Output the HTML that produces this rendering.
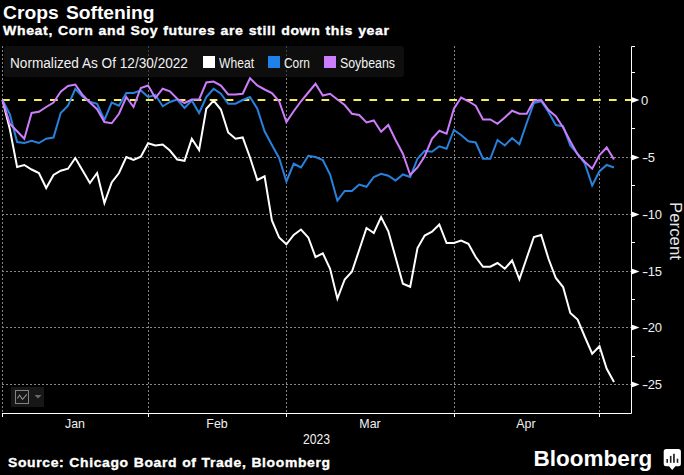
<!DOCTYPE html>
<html><head><meta charset="utf-8">
<style>
html,body{margin:0;padding:0;background:#000;}
body{width:684px;height:475px;overflow:hidden;position:relative;font-family:"Liberation Sans",sans-serif;color:#fff;}
.t{position:absolute;white-space:nowrap;transform-origin:0 0;line-height:1;}
#title{left:2.5px;top:4px;font-size:18.5px;font-weight:bold;transform:scaleX(1.04);word-spacing:1.9px;}
#sub{left:3px;top:24px;font-size:13.3px;font-weight:bold;transform:scaleX(1.0587);letter-spacing:0.6px;word-spacing:0.5px;-webkit-text-stroke:0.35px #fff;}
#src{left:7.5px;top:455.7px;font-size:13.3px;font-weight:bold;transform:scaleX(1.048);letter-spacing:0.6px;word-spacing:0.5px;-webkit-text-stroke:0.35px #fff;}
#legend{position:absolute;left:4px;top:46px;width:400px;height:31px;background:rgba(22,22,22,0.62);border-radius:3px;}
.lg{font-size:14px;top:56px;color:#f2f2f2;}
.sw{position:absolute;top:56px;width:12px;height:12px;}
.ax{font-size:13px;color:#f0f0f0;}
.mo{font-size:13.5px;}
.ax i{font-style:normal;letter-spacing:1.3px;display:inline-block;transform:scaleX(1.45);transform-origin:0 50%;}
.mo{transform-origin:50% 0;transform:translateX(-50%) scaleX(0.92);}
svg{position:absolute;left:0;top:0;}
.g{stroke:#868686;stroke-width:1;stroke-dasharray:2 2;}
.a{stroke:#fff;stroke-width:1;fill:none;}
.s{fill:none;stroke-width:2.0;stroke-linejoin:miter;stroke-linecap:butt;}
#pct{left:683px;top:201.5px;font-size:16px;transform:rotate(90deg) scaleX(1.05);color:#e6e6e6;}
#yr{left:303px;top:432.1px;font-size:14px;color:#f0f0f0;transform:scaleX(0.87);}
#bb{left:533.5px;top:448.3px;font-size:22.5px;font-weight:bold;transform:scaleX(1.0);}
#ib{position:absolute;left:11px;top:387px;width:33px;height:20px;background:#171717;}
</style></head><body>
<div id="title" class="t">Crops Softening</div>
<div id="sub" class="t">Wheat, Corn and Soy futures are still down this year</div>
<svg width="684" height="475" viewBox="0 0 684 475" id="chart">
<line x1="2" y1="157.5" x2="631" y2="157.5" class="g"/>
<line x1="2" y1="214.5" x2="631" y2="214.5" class="g"/>
<line x1="2" y1="271.5" x2="631" y2="271.5" class="g"/>
<line x1="2" y1="327.5" x2="631" y2="327.5" class="g"/>
<line x1="2" y1="384.5" x2="631" y2="384.5" class="g"/>
<line x1="2.5" y1="46" x2="2.5" y2="413" class="g"/>
<line x1="148.5" y1="46" x2="148.5" y2="413" class="g"/>
<line x1="286.5" y1="46" x2="286.5" y2="413" class="g"/>
<line x1="454.5" y1="46" x2="454.5" y2="413" class="g"/>
<line x1="599.5" y1="46" x2="599.5" y2="413" class="g"/>
<path d="M2 413.5 H631.5 V46.5 H635" class="a"/>
<line x1="2.5" y1="413" x2="2.5" y2="417" class="a"/>
<line x1="148.5" y1="413" x2="148.5" y2="417" class="a"/>
<line x1="286.5" y1="413" x2="286.5" y2="417" class="a"/>
<line x1="454.5" y1="413" x2="454.5" y2="417" class="a"/>
<line x1="599.5" y1="413" x2="599.5" y2="417" class="a"/>
<line x1="632" y1="72.5" x2="635" y2="72.5" class="a"/>
<line x1="632" y1="128.5" x2="635" y2="128.5" class="a"/>
<line x1="632" y1="185.5" x2="635" y2="185.5" class="a"/>
<line x1="632" y1="242.5" x2="635" y2="242.5" class="a"/>
<line x1="632" y1="299.5" x2="635" y2="299.5" class="a"/>
<line x1="632" y1="356.5" x2="635" y2="356.5" class="a"/>
<line x1="2.1" y1="100.0" x2="632" y2="100.0" stroke="#f9ed5e" stroke-width="2.15" stroke-dasharray="7.7 8.27"/>
<path d="M2.5 100.00 L9.8 129.00 L17.1 167.00 L24.3 165.00 L31.6 169.50 L38.9 173.00 L46.2 188.00 L53.5 175.00 L60.7 170.75 L68.0 168.75 L75.3 158.00 L82.6 170.50 L89.9 183.00 L97.1 173.00 L104.4 203.00 L111.7 182.50 L119.0 173.00 L126.3 157.00 L133.5 160.00 L140.8 156.75 L148.1 143.25 L155.4 145.50 L162.7 144.50 L169.9 150.50 L177.2 159.50 L184.5 160.75 L191.8 138.75 L199.1 150.00 L206.3 108.75 L213.6 100.50 L220.9 109.50 L228.2 132.50 L235.5 138.75 L242.7 137.50 L250.0 157.50 L257.3 180.00 L264.6 176.25 L271.9 220.50 L279.1 237.50 L286.4 244.25 L293.7 235.00 L301.0 229.50 L308.3 237.50 L315.5 257.00 L322.8 253.25 L330.1 268.75 L337.4 298.75 L344.7 279.50 L351.9 271.75 L359.2 250.00 L366.5 228.00 L373.8 233.00 L381.1 217.00 L388.3 231.25 L395.6 257.50 L402.9 283.75 L410.2 286.75 L417.5 248.00 L424.7 235.50 L432.0 231.75 L439.3 224.50 L446.6 243.00 L453.9 243.00 L461.1 240.50 L468.4 243.75 L475.7 257.00 L483.0 266.75 L490.3 266.75 L497.5 263.00 L504.8 268.75 L512.1 260.50 L519.4 279.25 L526.7 258.00 L533.9 237.00 L541.2 235.00 L548.5 258.75 L555.8 278.00 L563.1 287.00 L570.3 313.00 L577.6 319.50 L584.9 337.00 L592.2 353.75 L599.5 346.25 L606.7 368.75 L614.0 382.00" class="s" stroke="#ffffff"/>
<path d="M2.5 100.00 L9.8 114.00 L17.1 142.00 L24.3 143.00 L31.6 140.75 L38.9 143.00 L46.2 138.75 L53.5 137.50 L60.7 113.00 L68.0 105.75 L75.3 88.75 L82.6 96.75 L89.9 101.75 L97.1 103.75 L104.4 120.00 L111.7 102.50 L119.0 105.75 L126.3 93.00 L133.5 93.00 L140.8 90.50 L148.1 97.00 L155.4 95.00 L162.7 106.25 L169.9 102.00 L177.2 99.50 L184.5 108.00 L191.8 100.50 L199.1 113.00 L206.3 97.00 L213.6 88.75 L220.9 93.75 L228.2 103.75 L235.5 103.75 L242.7 100.00 L250.0 97.00 L257.3 108.75 L264.6 131.25 L271.9 145.00 L279.1 158.00 L286.4 181.50 L293.7 163.75 L301.0 167.50 L308.3 155.75 L315.5 157.00 L322.8 160.00 L330.1 174.50 L337.4 200.50 L344.7 191.00 L351.9 191.00 L359.2 184.50 L366.5 186.75 L373.8 177.00 L381.1 173.75 L388.3 175.75 L395.6 180.50 L402.9 174.50 L410.2 177.00 L417.5 158.75 L424.7 150.75 L432.0 151.75 L439.3 146.25 L446.6 148.75 L453.9 130.00 L461.1 135.00 L468.4 141.25 L475.7 142.50 L483.0 158.75 L490.3 158.75 L497.5 140.00 L504.8 145.50 L512.1 138.00 L519.4 144.25 L526.7 123.00 L533.9 103.00 L541.2 101.25 L548.5 112.00 L555.8 125.00 L563.1 126.25 L570.3 145.50 L577.6 153.75 L584.9 163.75 L592.2 185.50 L599.5 171.25 L606.7 165.00 L614.0 167.50" class="s" stroke="#2981de"/>
<path d="M2.5 100.00 L9.8 123.75 L17.1 131.25 L24.3 138.75 L31.6 113.00 L38.9 111.75 L46.2 107.00 L53.5 102.50 L60.7 91.75 L68.0 86.00 L75.3 84.50 L82.6 95.00 L89.9 102.50 L97.1 109.25 L104.4 122.00 L111.7 123.25 L119.0 113.75 L126.3 97.00 L133.5 107.00 L140.8 88.00 L148.1 85.50 L155.4 98.00 L162.7 88.75 L169.9 91.25 L177.2 98.75 L184.5 103.00 L191.8 99.50 L199.1 99.50 L206.3 82.50 L213.6 81.50 L220.9 85.50 L228.2 94.50 L235.5 94.50 L242.7 93.75 L250.0 78.25 L257.3 85.50 L264.6 89.50 L271.9 93.00 L279.1 101.25 L286.4 122.00 L293.7 111.25 L301.0 101.25 L308.3 92.50 L315.5 83.75 L322.8 95.50 L330.1 93.75 L337.4 99.50 L344.7 105.00 L351.9 113.75 L359.2 115.00 L366.5 122.50 L373.8 120.50 L381.1 131.75 L388.3 125.00 L395.6 140.00 L402.9 153.75 L410.2 175.00 L417.5 167.50 L424.7 156.25 L432.0 138.75 L439.3 130.75 L446.6 133.75 L453.9 108.75 L461.1 97.50 L468.4 101.25 L475.7 105.75 L483.0 119.50 L490.3 119.50 L497.5 123.75 L504.8 117.50 L512.1 110.75 L519.4 113.75 L526.7 113.75 L533.9 100.75 L541.2 100.00 L548.5 110.00 L555.8 116.25 L563.1 127.50 L570.3 141.25 L577.6 154.50 L584.9 162.00 L592.2 168.75 L599.5 155.00 L606.7 147.50 L614.0 159.50" class="s" stroke="#cc7dfb"/>
<path d="M631.5 97.1 L639.5 100.0 L631.5 102.9 Z" fill="#fff"/>
<path d="M631.5 154.6 L639.5 157.5 L631.5 160.4 Z" fill="#fff"/>
<path d="M631.5 211.6 L639.5 214.5 L631.5 217.4 Z" fill="#fff"/>
<path d="M631.5 268.6 L639.5 271.5 L631.5 274.4 Z" fill="#fff"/>
<path d="M631.5 324.6 L639.5 327.5 L631.5 330.4 Z" fill="#fff"/>
<path d="M631.5 381.6 L639.5 384.5 L631.5 387.4 Z" fill="#fff"/>
</svg>
<div id="legend"></div>
<div class="t lg" id="l0" style="left:10px;transform:scaleX(0.973)">Normalized As Of 12/30/2022</div>
<div class="sw" style="left:203px;background:#fff"></div>
<div class="t lg" id="l1" style="left:218.5px;transform:scaleX(0.865)">Wheat</div>
<div class="sw" style="left:268px;background:#1f82ea"></div>
<div class="t lg" id="l2" style="left:283.5px;transform:scaleX(0.85)">Corn</div>
<div class="sw" style="left:324px;background:#cc7dfb"></div>
<div class="t lg" id="l3" style="left:340px;transform:scaleX(0.883)">Soybeans</div>
<div class="t ax" style="left:641px;top:93.5px">0</div><div class="t ax" style="left:642px;top:151.0px"><i>-</i>5</div><div class="t ax" style="left:642px;top:208.0px"><i>-</i>10</div><div class="t ax" style="left:642px;top:265.0px"><i>-</i>15</div><div class="t ax" style="left:642px;top:321.0px"><i>-</i>20</div><div class="t ax" style="left:642px;top:378.0px"><i>-</i>25</div>
<div class="t ax mo" style="left:75px;top:417px">Jan</div><div class="t ax mo" style="left:217px;top:417px">Feb</div><div class="t ax mo" style="left:370px;top:417px">Mar</div><div class="t ax mo" style="left:526px;top:417px">Apr</div>
<div id="yr" class="t">2023</div>
<div id="pct" class="t">Percent</div>
<div id="ib"></div>
<svg width="684" height="475" viewBox="0 0 684 475">
<rect x="15.5" y="390.5" width="13" height="13" fill="none" stroke="#848484" stroke-width="1"/>
<path d="M17.3 398.5 L19.6 395.3 L22.5 399.4 L26.8 394.400" fill="none" stroke="#8e8e8e" stroke-width="1.1"/>
<path d="M34.5 395 L41.5 395 L38 398.5 Z" fill="#6a6a6a"/>
<path d="M666.2 449 H678.4 a2.5 2.5 0 0 1 2.5 2.5 V463.8 a2.5 2.5 0 0 1 -2.5 2.5 H675.4 L672.2 469.9 L669 466.3 H666.2 a2.5 2.5 0 0 1 -2.5 -2.5 V451.5 a2.5 2.500 0 0 1 2.5 -2.5 Z" fill="#fff"/>
<rect x="666.4" y="459" width="1.6" height="3.8" fill="#222"/>
<rect x="669.9" y="455.9" width="1.6" height="6.9" fill="#222"/>
<rect x="673.1" y="453.8" width="1.700" height="9" fill="#222"/>
<rect x="676.7" y="458.7" width="1.6" height="4.100" fill="#222"/>
</svg>
<div id="bb" class="t">Bloomberg</div>
<div id="src" class="t">Source: Chicago Board of Trade, Bloomberg</div>
</body></html>
